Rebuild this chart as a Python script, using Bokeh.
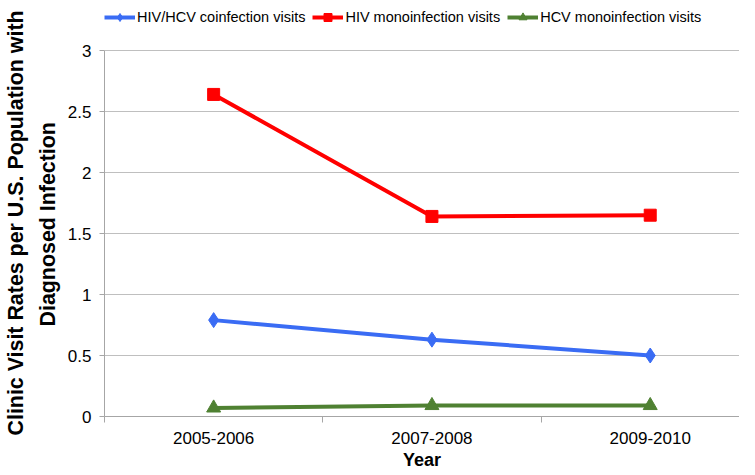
from bokeh.plotting import figure
from bokeh.models import (Range1d, FixedTicker, NumeralTickFormatter, Legend, LegendItem, Title)
from bokeh.embed import file_html
from bokeh.resources import INLINE

# ---- data ----
periods = ["2005-2006", "2007-2008", "2009-2010"]
coinfection = [0.79, 0.63, 0.50]
hiv_mono = [2.64, 1.64, 1.65]
hcv_mono = [0.07, 0.09, 0.09]
y_ticks = [0, 0.5, 1, 1.5, 2, 2.5, 3]
y_title_lines = ["Clinic Visit Rates per U.S. Population with", "Diagnosed Infection"]

xpos = [i + 0.5 for i in range(len(periods))]

FONT = "Liberation Sans"

# frame spans from the legend row down to the x axis; the value axis is bounded to 0..3
p = figure(width=739, height=474, output_backend="svg", toolbar_location=None,
           x_range=Range1d(0, 2.909), y_range=Range1d(0, 3.3525),
           min_border_left=99, min_border_right=0, min_border_top=7, min_border_bottom=58)
p.outline_line_color = None
p.background_fill_color = "white"

# axes
xa = p.xaxis[0]
xa.ticker = FixedTicker(ticks=xpos, minor_ticks=[0, 1, 2, 3])
xa.major_label_overrides = {x: lab for x, lab in zip(xpos, periods)}
xa.major_tick_out = 0
xa.major_tick_in = 0
xa.minor_tick_out = 6
xa.minor_tick_in = 0
xa.minor_tick_line_color = "#a6a6a6"
xa.axis_line_color = "#a6a6a6"
xa.major_label_text_font = FONT
xa.major_label_text_font_size = "17px"
xa.major_label_text_color = "black"
xa.major_label_standoff = 9
xa.axis_label = "Year"
xa.axis_label_text_font = FONT
xa.axis_label_text_font_style = "bold"
xa.axis_label_text_font_size = "18px"
xa.axis_label_text_color = "black"
xa.axis_label_standoff = 3

ya = p.yaxis[0]
ya.bounds = (0, 3)
ya.ticker = FixedTicker(ticks=y_ticks, minor_ticks=[])
ya.formatter = NumeralTickFormatter(format="0.[0]")
ya.major_tick_out = 5
ya.major_tick_in = 0
ya.major_tick_line_color = "#a6a6a6"
ya.axis_line_color = "#a6a6a6"
ya.major_label_text_font = FONT
ya.major_label_text_font_size = "17px"
ya.major_label_text_color = "black"
ya.major_label_standoff = 8

# two-line value-axis title, each line centred on the 0..3 span
t2 = Title(text=y_title_lines[1], align="left", offset=90, standoff=10,
           text_font=FONT, text_font_style="bold", text_font_size="21.4px",
           text_color="black")
t1 = Title(text=y_title_lines[0], align="left", offset=-19, standoff=2,
           text_font=FONT, text_font_style="bold", text_font_size="21.4px",
           text_color="black")
p.add_layout(t2, "left")
p.add_layout(t1, "left")

p.xgrid.grid_line_color = None
p.ygrid.ticker = FixedTicker(ticks=y_ticks)
p.ygrid.grid_line_color = "#bfbfbf"
p.ygrid.grid_line_width = 1

# series
blue = "#3a6cf4"
red = "#ff0000"
green = "#4f8132"

l1 = p.line(xpos, coinfection, line_width=4, color=blue)
m1 = p.scatter(xpos, coinfection, marker="diamond", size=15, color=blue)
l2 = p.line(xpos, hiv_mono, line_width=4, color=red)
m2 = p.scatter(xpos, hiv_mono, marker="square", size=12, color=red)
l3 = p.line(xpos, hcv_mono, line_width=4, color=green)
m3 = p.scatter(xpos, hcv_mono, marker="triangle", size=14, color=green)

legend = Legend(items=[
    LegendItem(label="HIV/HCV coinfection visits", renderers=[l1, m1]),
    LegendItem(label="HIV monoinfection visits", renderers=[l2, m2]),
    LegendItem(label="HCV monoinfection visits", renderers=[l3, m3]),
], orientation="horizontal", location="top_left")
legend.glyph_width = 31
legend.glyph_height = 20
legend.label_height = 20
legend.label_standoff = 2
legend.spacing = 7
legend.padding = 0
legend.margin = 0
legend.border_line_alpha = 0
legend.background_fill_alpha = 0
legend.label_text_font = FONT
legend.label_text_font_size = "14.5px"
legend.label_text_color = "black"
p.add_layout(legend)

open("out.html", "w").write(file_html(p, INLINE))
